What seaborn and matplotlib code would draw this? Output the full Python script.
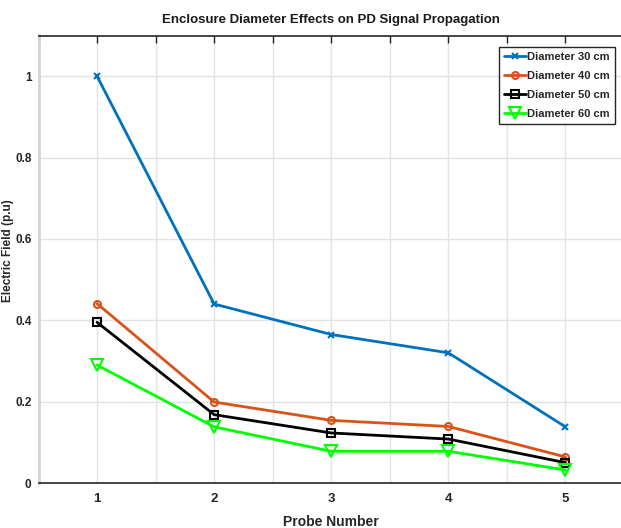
import numpy as np
import pandas as pd
import matplotlib
matplotlib.use("Agg")
import matplotlib.pyplot as plt
import seaborn as sns

# data
probes = [1, 2, 3, 4, 5]
d30 = [1.0, 0.44, 0.365, 0.32, 0.138]
d40 = [0.441, 0.199, 0.154, 0.139, 0.064]
d50 = [0.395, 0.168, 0.123, 0.108, 0.05]
d60 = [0.29, 0.138, 0.078, 0.078, 0.032]
labels = ["Diameter 30 cm", "Diameter 40 cm", "Diameter 50 cm", "Diameter 60 cm"]

colors = ["#0072BD", "#D95319", "#000000", "#00FF00"]
markers = ["x", "o", "s", "v"]
msizes = [5, 5, 6, 8]

sns.set_style("white")
font = ["Liberation Sans", "DejaVu Sans"]
plt.rcParams["font.family"] = font

df = pd.DataFrame({
    "probe": probes * 4,
    "value": d30 + d40 + d50 + d60,
    "series": sum([[l] * 5 for l in labels], []),
})

fig = plt.figure(figsize=(6.21, 5.28), dpi=100)
ax = fig.add_axes([38.5 / 621, 45 / 528, (624 - 38.5) / 621, (483 - 35.5) / 528])

for lab, c, m, ms in zip(labels, colors, markers, msizes):
    sub = df[df["series"] == lab]
    sns.lineplot(data=sub, x="probe", y="value", ax=ax, color=c, linewidth=2,
                 marker=m, markersize=ms, markerfacecolor="none",
                 markeredgecolor=c, markeredgewidth=1.5, label=lab)

ax.set_xlim(0.5, 5.5)
ax.set_ylim(0, 1.1)
xt = np.arange(0.5, 5.51, 0.5)
ax.set_xticks(xt)
ax.set_xticklabels([str(int(v)) if v == int(v) else "" for v in xt],
                   fontsize=9.5, fontweight="bold")
yt = [0, 0.2, 0.4, 0.6, 0.8, 1.0]
ax.set_yticks(yt)
ax.set_yticklabels(["0", "0.2", "0.4", "0.6", "0.8", "1"], fontsize=8.5, fontweight="bold")
ax.tick_params(axis="x", direction="in", length=5, width=1, top=True, pad=7, colors="#262626")
ax.tick_params(axis="y", direction="out", length=4, width=1, right=False, pad=1, colors="#262626")
for y in yt:
    ax.plot([5.5, 5.5 - 0.009], [y, y], color="#262626", lw=1, clip_on=False)

ax.grid(True, color="#e3e3e3", linewidth=1)
ax.set_axisbelow(True)
for s in ["top", "bottom"]:
    ax.spines[s].set_color("#262626")
    ax.spines[s].set_linewidth(1.2)
ax.spines["left"].set_color("#d4d4d4")
ax.spines["left"].set_linewidth(2)
ax.spines["right"].set_color("#262626")

ax.set_title("Enclosure Diameter Effects on PD Signal Propagation",
             fontsize=9.5, fontweight="bold", pad=9, color="#1a1a1a")
ax.set_xlabel("Probe Number", fontsize=10, fontweight="bold", color="#262626")
ax.xaxis.set_label_coords(0.5, -0.072)
ax.set_ylabel("Electric Field (p.u)", fontsize=8.5, fontweight="bold", color="#262626")
ax.yaxis.set_label_coords(-0.042, 0.52)

leg = ax.legend(loc="upper right", bbox_to_anchor=((615 - 38.5) / (624 - 38.5), (483 - 47) / (483 - 35.5)),
                fancybox=False, framealpha=1, edgecolor="#262626",
                prop={"weight": "bold", "size": 8, "family": font},
                handlelength=2.0, handletextpad=0.1, borderpad=0.45, labelspacing=0.8,
                borderaxespad=0)
leg.get_frame().set_linewidth(1)

fig.savefig("out.png", dpi=100)
